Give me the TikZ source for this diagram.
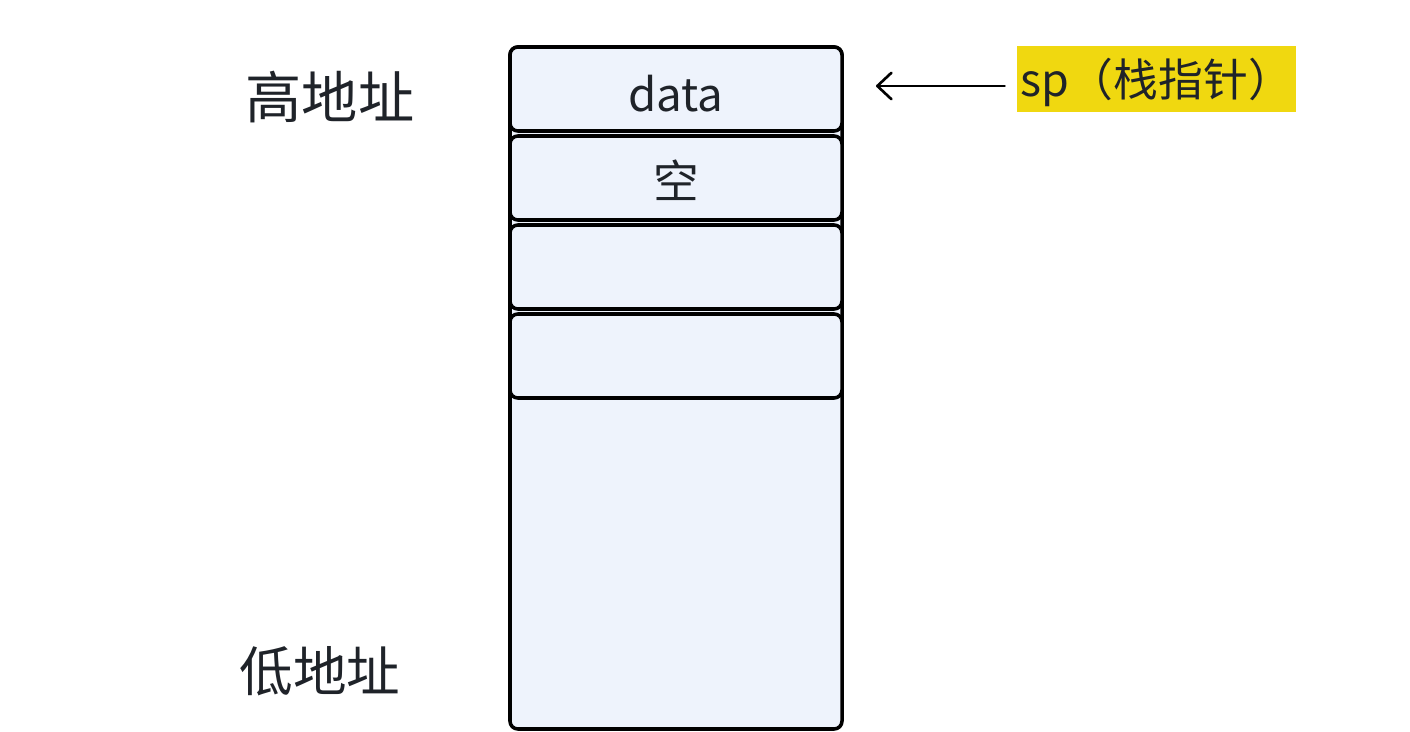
\documentclass[tikz,border=0pt]{standalone}
\usepackage{fontspec}
\setmainfont{Noto Sans CJK SC}
\usetikzlibrary{arrows.meta}
\definecolor{cellfill}{HTML}{EEF3FC}
\definecolor{markyellow}{HTML}{F0D810}
\definecolor{inktext}{HTML}{1F2329}
\newcommand{\lowered}[2]{\raisebox{-#1}[\height][\depth]{#2}}
\tikzset{
  cell/.style={draw, line width=2pt, rounded corners=4.5pt, fill=cellfill,
    minimum width=6.64cm, minimum height=1.68cm, inner sep=0pt,
    text=inktext, font=\fontsize{26}{30}\selectfont},
  addr/.style={text=inktext, inner sep=0pt, font=\fontsize{32}{38}\selectfont}
}
\begin{document}
\begin{tikzpicture}

        \useasboundingbox (0,0) rectangle (28.2,-14.64);

        % stack body
        \node[cell, minimum height=13.64cm] (stack) at (13.52,-7.76) {};

        \begin{scope}[every node/.style={cell}]
          \node (top)   at (13.52,-1.78) {\lowered{0.1cm}{data}};
          \node (empty) at (13.52,-3.56) {\lowered{0.04cm}{空}};
          \node (c3)    at (13.52,-5.34) {};
          \node (c4)    at (13.52,-7.12) {};
        \end{scope}

        \node[addr] (high) at (6.6,-1.94)  {高地址};
        \node[addr, font=\fontsize{30.5}{36}\selectfont] (low) at (6.4,-13.42) {低地址};

        \node[fill=markyellow, text=inktext, inner sep=0pt,
          minimum width=5.58cm, minimum height=1.32cm,
          font=\fontsize{25.5}{30}\selectfont] (sp) at (23.13,-1.58) {\lowered{0.06cm}{sp（栈指针）}};

        \coordinate (tip) at (17.52,-1.72);
        \draw[-{Straight Barb[length=8pt,width=15pt,round]}, line width=1.5pt,
          line cap=round, shorten <=0.24cm] (sp.west |- tip) -- (tip);

      \end{tikzpicture}
\end{document}
